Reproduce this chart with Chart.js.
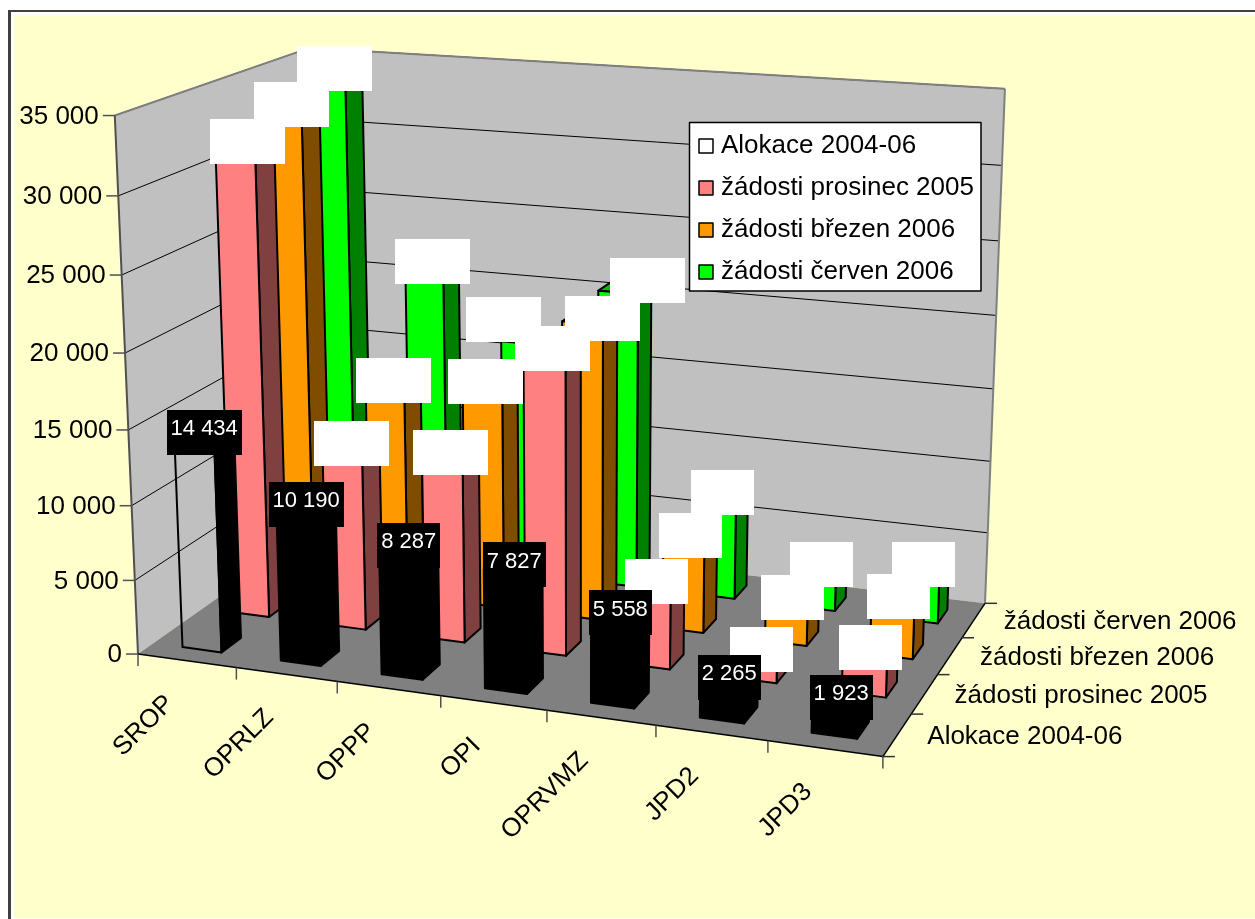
<!DOCTYPE html>
<html><head><meta charset="utf-8">
<style>html,body{margin:0;padding:0;background:#fff}canvas{display:block}</style>
<script src="https://cdn.jsdelivr.net/npm/chart.js@4/dist/chart.umd.min.js"></script>
</head><body><canvas id="c" width="1255" height="919"></canvas>
<script>
const categories=['SROP','OPRLZ','OPPP','OPI','OPRVMZ','JPD2','JPD3'];
const seriesNames=['Alokace 2004-06','žádosti prosinec 2005','žádosti březen 2006','žádosti červen 2006'];
const alokace=[14434,10190,8287,7827,5558,2265,1923];
const prosinec=[31770,12190,12370,19930,5220,1540,2580];
const brezen=[32940,14690,15220,20200,6080,2700,3630];
const cerven=[34260,21350,16500,20630,7000,2690,3520];
const FONT='"Liberation Sans", Arial, sans-serif';
const seriesColors=['#FFFFFF','#FF8080','#FF9900','#00FF00'];
const sideColors=['#000000','#804040','#804C00','#008000'];
const topColors=['#000000','#BF6060','#BF7300','#00BF00'];
const alokaceFronts=['rgba(0,0,0,0)','#000','#000','#000','#000','#000','#000'];
// data labels the original author dragged off their bars: "series,category" -> shift
const labelShift={'0,0':[0,3],'0,3':[1,0],'1,0':[3,0],'2,2':[-5,0],'2,3':[13,0],'3,2':[-24,-19],'3,3':[23,-7]};

// Camera calibration: (category, depth, height) -> picture
const calib=[[0,0,0,138,654],[0,0,1,115,115],[0,0,6/7,119,195],[0,0,5/7,122,276],[0,0,4/7,125,354],[0,0,3/7,128,430],[0,0,2/7,131,505],[0,0,1/7,134.5,580],
[1,0,0,237,668],[2,0,0,337,682],[3,0,0,441,695],[5,0,0,656,725],[6,0,0,767,741.5],[7,0,0,882,757],
[7,1,0,912.5,714],[7,2,0,938,674],[7,3,0,961.6,638],[7,4,0,985,603],[7,4,1,1005,89],[0,4,1,309,48],[0,4,0,322,525]];
function solveCam(){
  const n=11,A=Array.from({length:n},()=>new Array(n+1).fill(0));
  const add=(r,b)=>{for(let i=0;i<n;i++){for(let j=0;j<n;j++)A[i][j]+=r[i]*r[j];A[i][n]+=r[i]*b;}};
  calib.forEach(([X,Y,Z,u,v])=>{const x=X/7,y=Y/4,z=Z,U=u/1000,V=v/1000;
    add([x,y,z,1,0,0,0,0,-U*x,-U*y,-U*z],U);
    add([0,0,0,0,x,y,z,1,-V*x,-V*y,-V*z],V);});
  for(let c=0;c<n;c++){let m=c;for(let r=c+1;r<n;r++)if(Math.abs(A[r][c])>Math.abs(A[m][c]))m=r;
    [A[c],A[m]]=[A[m],A[c]];
    for(let r=0;r<n;r++){if(r===c)continue;const f=A[r][c]/A[c][c];for(let k=c;k<=n;k++)A[r][k]-=f*A[c][k];}}
  return A.map((r,i)=>r[n]/r[i]);
}
const cam=solveCam();
function P(X,Y,Z){const x=X/7,y=Y/4,z=Z,w=cam[8]*x+cam[9]*y+cam[10]*z+1;
  return [1000*(cam[0]*x+cam[1]*y+cam[2]*z+cam[3])/w,1000*(cam[4]*x+cam[5]*y+cam[6]*z+cam[7])/w];}

const fmt=v=>String(v).replace(/\B(?=(\d{3})+$)/g,' ');
function poly(ctx,pts,fill,stroke,lw){ctx.beginPath();pts.forEach((p,i)=>i?ctx.lineTo(p[0],p[1]):ctx.moveTo(p[0],p[1]));ctx.closePath();
  if(fill){ctx.fillStyle=fill;ctx.fill();}
  if(stroke){ctx.strokeStyle=stroke;ctx.lineWidth=lw||1;ctx.lineJoin='round';ctx.stroke();}}
function line(ctx,a,b,c,lw){ctx.beginPath();ctx.moveTo(a[0],a[1]);ctx.lineTo(b[0],b[1]);ctx.strokeStyle=c;ctx.lineWidth=lw||1;ctx.stroke();}

const scene={id:'scene',beforeDatasetsDraw(chart){
  const ctx=chart.ctx,xS=chart.scales.x,yS=chart.scales.y,dS=chart.scales.depth;
  const cx=i=>(xS.getPixelForValue(i)-xS.left)/xS.width*categories.length;
  const cd=s=>(dS.getPixelForValue(s)-dS.left)/dS.width*seriesNames.length;
  const cz=v=>(yS.bottom-yS.getPixelForValue(v))/(yS.bottom-yS.top);
  const nC=categories.length,nS=seriesNames.length;
  ctx.save();
  // frame
  ctx.fillStyle='#fff';ctx.fillRect(0,0,1255,919);
  ctx.fillStyle='#404040';ctx.fillRect(8,10,1247,2);ctx.fillRect(8,10,3,909);
  ctx.fillStyle='#FFFFCC';ctx.fillRect(14,15,1241,903);
  // walls and floor
  poly(ctx,[P(0,0,0),P(0,4,0),P(0,4,1),P(0,0,1)],'#C0C0C0');
  poly(ctx,[P(0,4,0),P(nC,4,0),P(nC,4,1),P(0,4,1)],'#C0C0C0');
  poly(ctx,[P(0,0,0),P(nC,0,0),P(nC,4,0),P(0,4,0)],'#808080');
  yS.ticks.forEach(t=>{const z=cz(t.value);
    if(t.value>0){line(ctx,P(0,0,z),P(0,4,z),'#000',1);line(ctx,P(0,4,z),P(nC,4,z),'#000',1);}});
  line(ctx,P(0,0,1),P(0,4,1),'#808080',2);line(ctx,P(0,4,1),P(nC,4,1),'#808080',2);
  line(ctx,P(nC,4,1),P(nC,4,0),'#808080',2);line(ctx,P(0,0,0),P(0,0,1),'#505050',2);
  line(ctx,P(0,0,0),P(nC,0,0),'#000',1.5);line(ctx,P(nC,0,0),P(nC,4,0),'#000',1.5);
  // axes
  ctx.font='26px '+FONT;ctx.fillStyle='#000';
  ctx.textAlign='right';ctx.textBaseline='middle';
  yS.ticks.forEach(t=>{const p=P(0,0,cz(t.value));line(ctx,[p[0]-12,p[1]],p,'#505050',1.5);ctx.fillStyle='#000';ctx.fillText(t.label,p[0]-16,p[1]+1);});
  for(let i=0;i<=nC;i++){const p=P(i,0,0);line(ctx,p,[p[0],p[1]+12],'#505050',1.5);}
  for(let s=0;s<=nS;s++){const p=P(nC,s,0);line(ctx,p,[p[0]+12,p[1]],'#303030',1.5);}
  xS.ticks.forEach((t,i)=>{const p=P(cx(i),0,0);ctx.save();ctx.translate(p[0]-17,p[1]+39);ctx.rotate(-Math.PI/4);ctx.textAlign='right';ctx.fillStyle='#000';ctx.fillText(t.label,0,0);ctx.restore();});
  ctx.textAlign='left';
  dS.ticks.forEach((t,s)=>{const p=P(nC,cd(s),0);ctx.fillStyle='#000';ctx.fillText(t.label,p[0]+30,p[1]+2);});
  // bars: far rows first, left to right
  for(let s=nS-1;s>=0;s--){const ds=chart.data.datasets[s],d=cd(s);
    ds.data.forEach((v,i)=>{const c=cx(i),z=cz(v),a=c-.2,b=c+.2,f=d-.2,k=d+.2;
      const front=s===0?alokaceFronts[i]:seriesColors[s];
      poly(ctx,[P(a,f,z),P(b,f,z),P(b,k,z),P(a,k,z)],topColors[s],'#000',2);
      poly(ctx,[P(b,f,0),P(b,k,0),P(b,k,z),P(b,f,z)],sideColors[s],'#000',2);
      poly(ctx,[P(a,f,0),P(b,f,0),P(b,f,z),P(a,f,z)],front,'#000',2);
    });}
  // data labels
  ctx.font='22px '+FONT;ctx.textAlign='center';ctx.textBaseline='middle';
  for(let s=nS-1;s>=0;s--){chart.data.datasets[s].data.forEach((v,i)=>{
    const sh=labelShift[s+','+i]||[0,0],p=P(cx(i),cd(s),cz(v)),x=p[0]+sh[0],y=p[1]+sh[1],w=Math.round(ctx.measureText(fmt(v)).width)+8,h=45;
    ctx.fillStyle=s===0?'#000':'#fff';ctx.fillRect(Math.round(x-w/2),Math.round(y-h/2),w,h);
    if(s===0){ctx.fillStyle='#fff';ctx.fillText(fmt(v),x,y-3);}
  });}
  // legend
  poly(ctx,[[689.5,122.5],[981,122.5],[981,291],[689.5,291]],'#fff','#000',1.5);
  ctx.font='26px '+FONT;ctx.textAlign='left';
  chart.data.datasets.forEach((ds,s)=>{const y=145+42*s;
    ctx.fillStyle=seriesColors[s];ctx.fillRect(699,y-6,14,14);ctx.strokeStyle='#000';ctx.lineWidth=1.5;ctx.strokeRect(699,y-6,14,14);
    ctx.fillStyle='#000';ctx.fillText(ds.label,721,y+1);});
  ctx.restore();
  return false;
}};
new Chart(document.getElementById('c'),{type:'bar',
  data:{labels:categories,datasets:[alokace,prosinec,brezen,cerven].map((d,s)=>({label:seriesNames[s],data:d,backgroundColor:seriesColors[s],borderColor:'#000',borderWidth:2}))},
  options:{responsive:false,animation:false,layout:{padding:0},
    plugins:{legend:{display:false},tooltip:{enabled:false}},
    scales:{x:{display:false,offset:true},
      depth:{type:'category',axis:'x',position:'top',labels:seriesNames,offset:true,display:false},
      y:{display:false,min:0,max:35000,ticks:{stepSize:5000,callback:fmt}}}},
  plugins:[scene]});
</script></body></html>
